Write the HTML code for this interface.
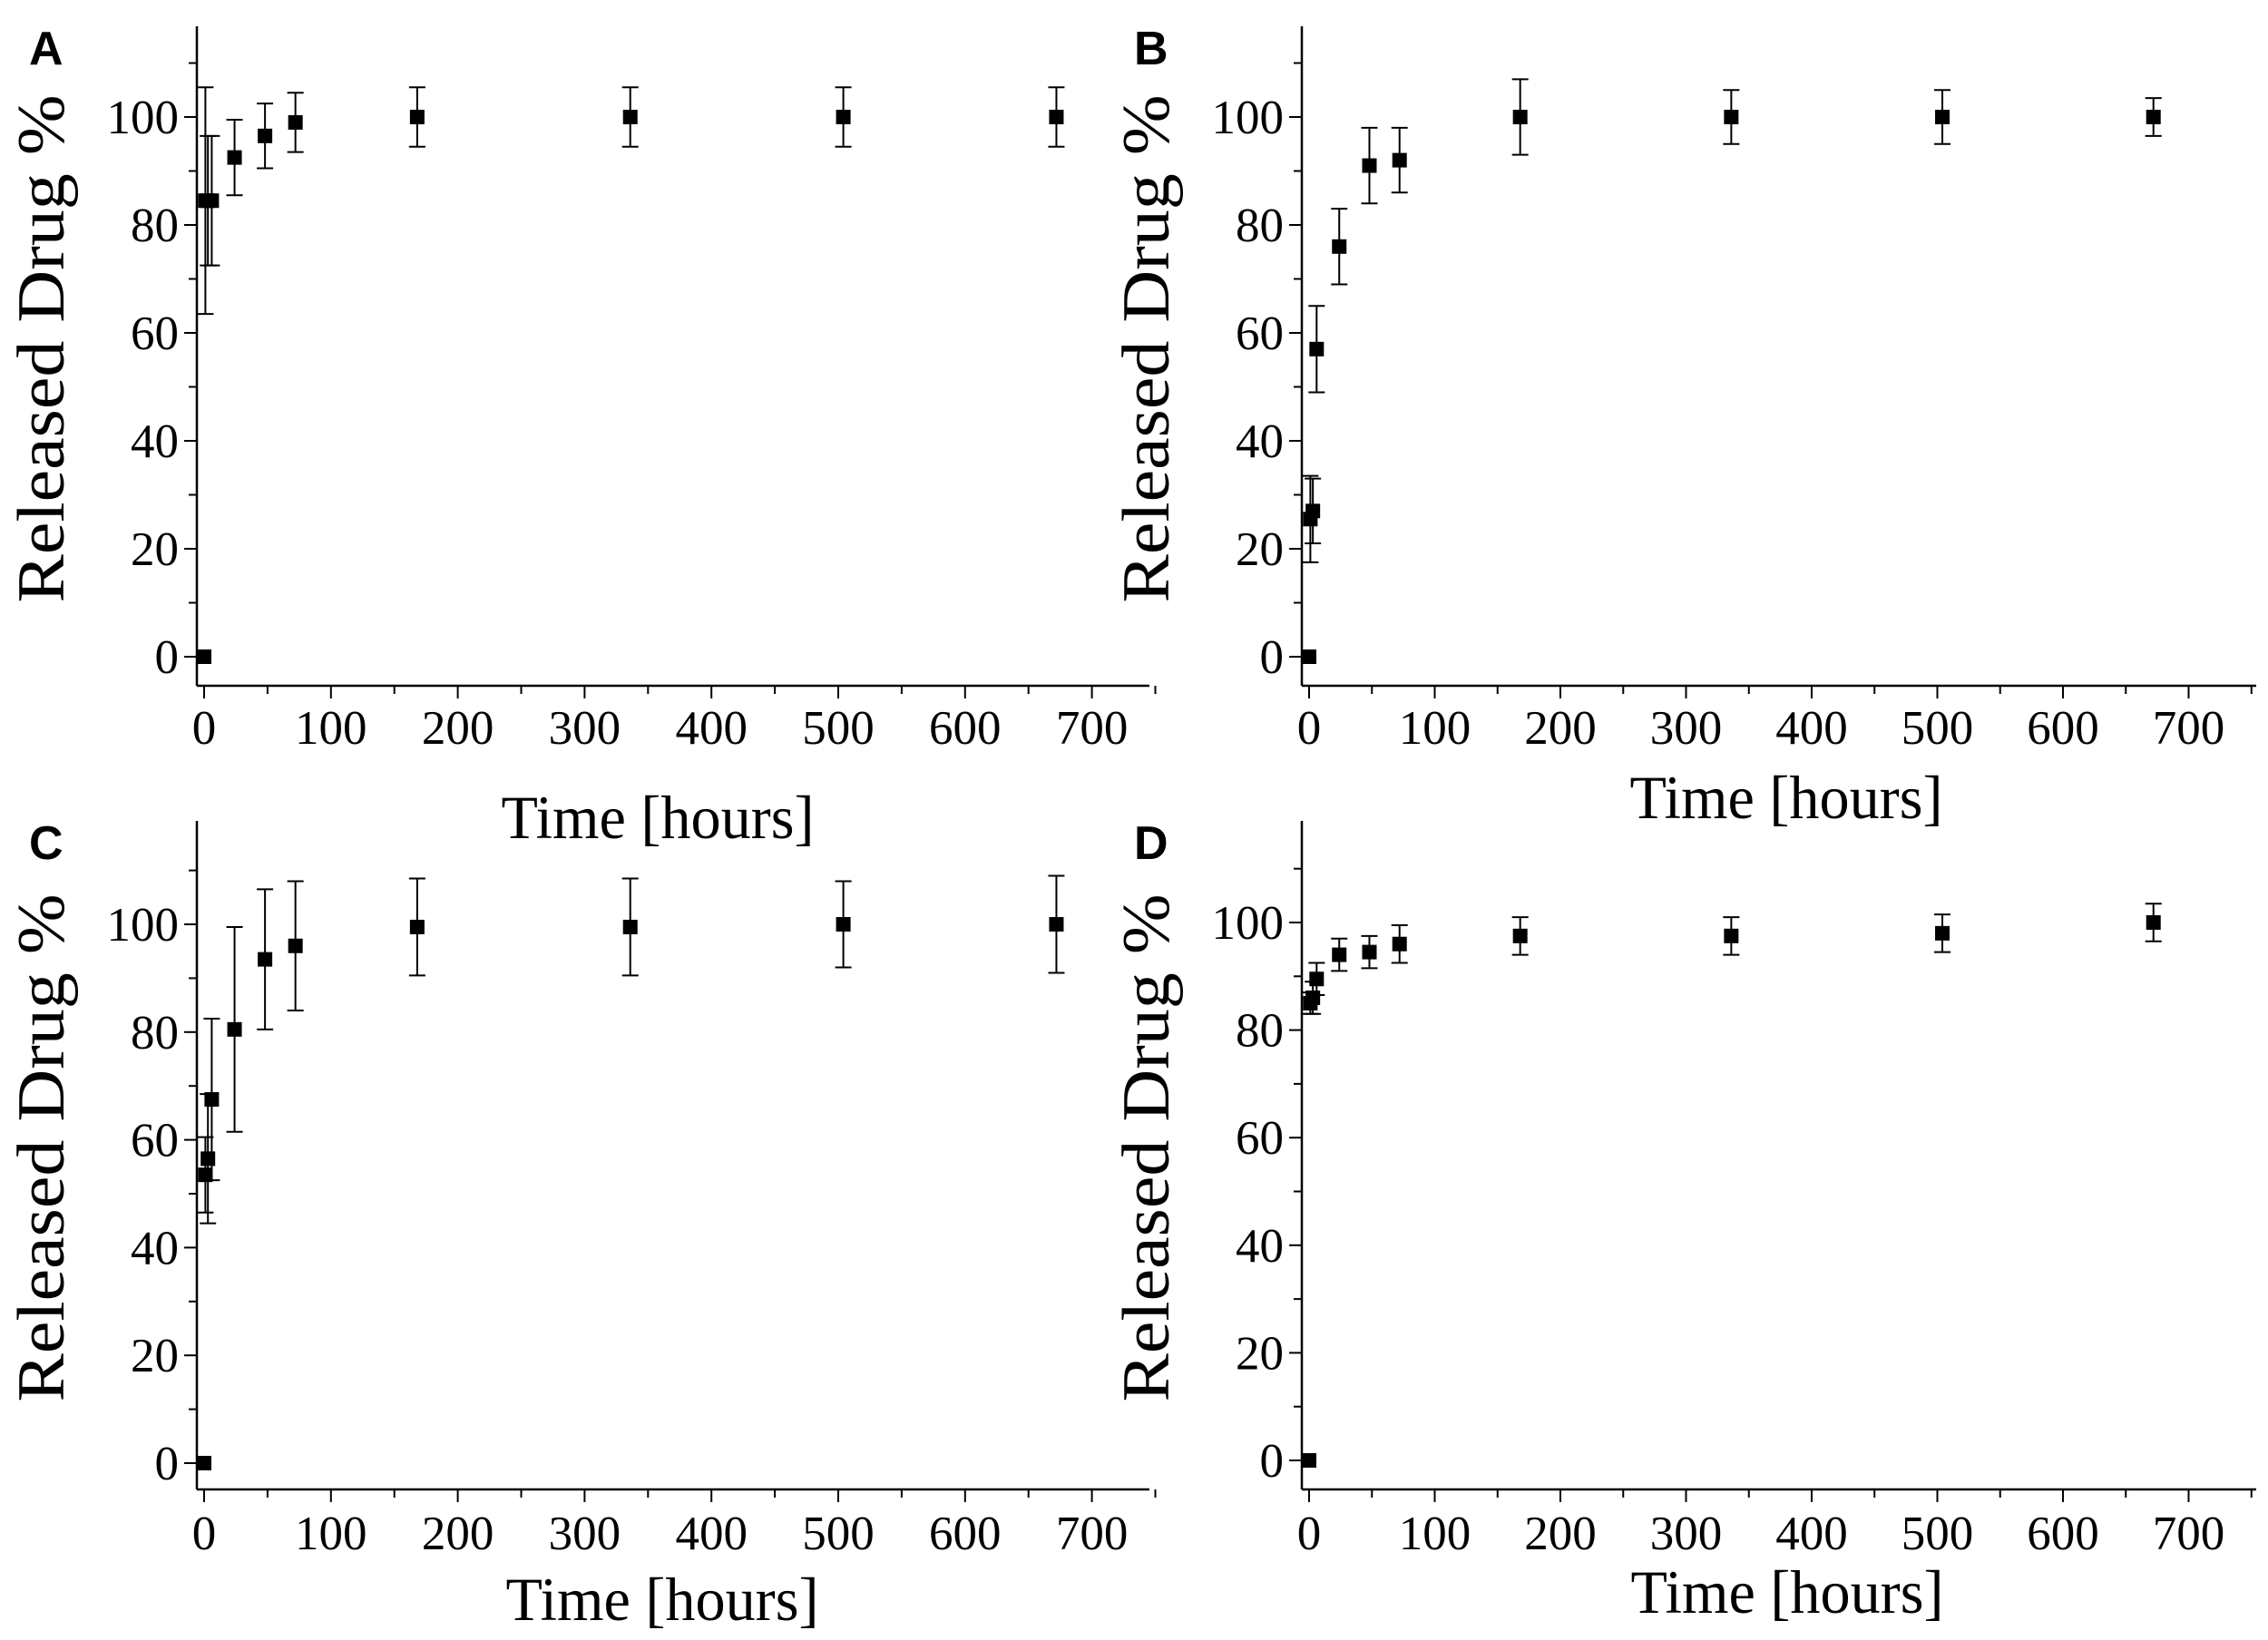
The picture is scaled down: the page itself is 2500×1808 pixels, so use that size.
<!DOCTYPE html>
<html><head><meta charset="utf-8">
<style>
html,body{margin:0;padding:0;background:#fff;}
svg{display:block;}
text{font-family:"Liberation Serif",serif;fill:#000;}
.pl{font-family:"Liberation Sans",sans-serif;font-weight:bold;}
</style></head>
<body>
<svg id="fig" width="2500" height="1808" viewBox="0 0 2500 1808" xmlns="http://www.w3.org/2000/svg"></svg>
<script>
// ---- data ----
const timesA = [0, 1, 3, 6, 24, 48, 72, 168, 336, 504, 672];
const valuesA = [0, 84.5, 84.5, 84.5, 92.5, 96.5, 99, 100, 100, 100, 100];
const errorsA = [0, 21, 12, 12, 7, 6, 5.5, 5.5, 5.5, 5.5, 5.5];

const timesB = [0, 1, 3, 6, 24, 48, 72, 168, 336, 504, 672];
const valuesB = [0, 25.5, 27, 57, 76, 91, 92, 100, 100, 100, 100];
const errorsB = [0, 8, 6, 8, 7, 7, 6, 7, 5, 5, 3.5];

const timesC = [0, 1, 3, 6, 24, 48, 72, 168, 336, 504, 672];
const valuesC = [0, 53.5, 56.5, 67.5, 80.5, 93.5, 96, 99.5, 99.5, 100, 100];
const errorsC = [0, 7, 12, 15, 19, 13, 12, 9, 9, 8, 9];

const timesD = [0, 1, 3, 6, 24, 48, 72, 168, 336, 504, 672];
const valuesD = [0, 85, 86, 89.5, 94, 94.5, 96, 97.5, 97.5, 98, 100];
const errorsD = [0, 2, 3, 3, 3, 3, 3.5, 3.5, 3.5, 3.5, 3.5];

const xTicks = [0, 100, 200, 300, 400, 500, 600, 700];
const yTicks = [0, 20, 40, 60, 80, 100];

const NS = "http://www.w3.org/2000/svg";
const svg = document.getElementById("fig");
function mk(tag, attrs, parent){
  const e = document.createElementNS(NS, tag);
  for (const k in attrs) e.setAttribute(k, attrs[k]);
  (parent||svg).appendChild(e);
  return e;
}

const panels = [
  {id:"a", label:"A", ax:217, top:29, base:756, right:1267, y0:724, y100:129, x0:225, per100:139.8, times:timesA, vals:valuesA, errs:errorsA, xtY:820, titleX:725, titleY:924},
  {id:"b", label:"B", ax:1435, top:29, base:756, right:2487, y0:724, y100:129, x0:1443, per100:138.5, times:timesB, vals:valuesB, errs:errorsB, xtY:820, titleX:1969, titleY:902},
  {id:"c", label:"C", ax:217, top:905, base:1642, right:1267, y0:1613, y100:1019, x0:225, per100:139.8, times:timesC, vals:valuesC, errs:errorsC, xtY:1708, titleX:730, titleY:1786},
  {id:"d", label:"D", ax:1435, top:905, base:1642, right:2487, y0:1610, y100:1017, x0:1443, per100:138.5, times:timesD, vals:valuesD, errs:errorsD, xtY:1708, titleX:1970, titleY:1778}
];

panels.forEach(p => {
  const g = mk("g", {});
  
  
  const X = t => p.x0 + t * p.per100 / 100;
  const Y = v => p.y0 + (p.y100 - p.y0) * v / 100;

  const lab = mk("text", {x: p.ax - 185, y: p.top + 42, "font-size": 52, class: "pl"}, g);
  lab.textContent = p.label;
  
  

  const yaxis = mk("line", {x1:p.ax, y1:p.top, x2:p.ax, y2:p.base, stroke:"#000", "stroke-width":2.5}, g);
  
  
  const xaxis = mk("line", {x1:p.ax, y1:p.base, x2:p.right, y2:p.base, stroke:"#000", "stroke-width":2.5}, g);
  
  

  for (let v = 0; v <= 110; v += 10) {
    const major = v % 20 === 0;
    const tk = mk("line", {x1:p.ax - (major ? 14 : 9), y1:Y(v), x2:p.ax, y2:Y(v), stroke:"#000", "stroke-width":2}, g);
    
    
  }
  yTicks.forEach(v => {
    const t = mk("text", {x:p.ax - 20, y:Y(v) + 18, "font-size":53, "text-anchor":"end"}, g);
    t.textContent = v;
    
    
  });
  for (let t0 = 0; t0 <= 750; t0 += 50) {
    const major = t0 % 100 === 0;
    const tk = mk("line", {x1:X(t0), y1:p.base, x2:X(t0), y2:p.base + (major ? 14 : 9), stroke:"#000", "stroke-width":2}, g);
    
    
  }
  xTicks.forEach(v => {
    const t = mk("text", {x:X(v), y:p.xtY, "font-size":53, "text-anchor":"middle"}, g);
    t.textContent = v;
    
    
  });

  const cy = (p.top + p.base) / 2 - 8;
  const yt = mk("text", {x:0, y:0, "font-size":74, "text-anchor":"middle", textLength:560, lengthAdjust:"spacingAndGlyphs", transform:`translate(${p.ax - 147},${cy}) rotate(-90)`}, g);
  yt.textContent = "Released Drug %";
  
  
  const xt = mk("text", {x:p.titleX, y:p.titleY, "font-size":68, "text-anchor":"middle", textLength:345, lengthAdjust:"spacingAndGlyphs"}, g);
  xt.textContent = "Time [hours]";
  
  

  p.times.forEach((t, i) => {
    const x = X(t), v = p.vals[i], e = p.errs[i];
    if (e > 0) {
      const eb = mk("path", {d:`M${x},${Y(v+e)}V${Y(v-e)}M${x-9},${Y(v+e)}H${x+9}M${x-9},${Y(v-e)}H${x+9}`, stroke:"#000", "stroke-width":2, fill:"none"}, g);
      
      
    }
    const m = mk("rect", {x:x-8, y:Y(v)-8, width:16, height:16, fill:"#000"}, g);
    
    
  });
});
</script>
</body></html>
